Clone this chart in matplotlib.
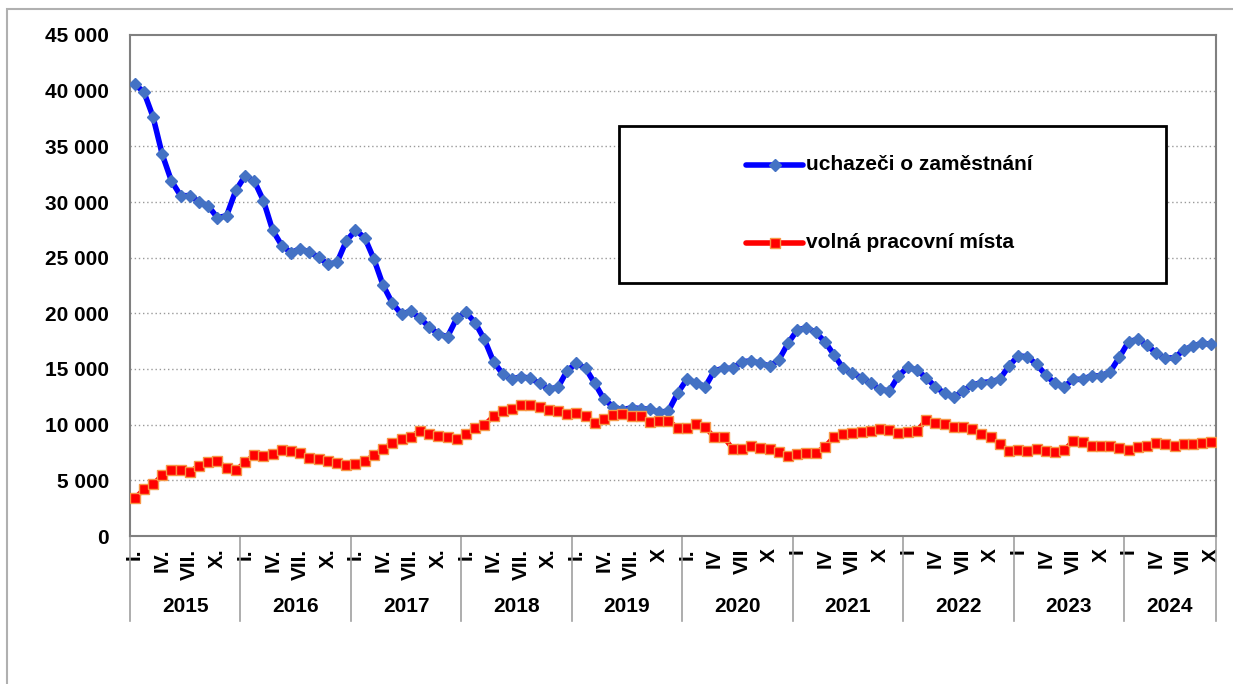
import matplotlib
matplotlib.use("Agg")
import matplotlib.pyplot as plt
from matplotlib.lines import Line2D
from matplotlib.patches import Rectangle
from matplotlib.ticker import FuncFormatter
import matplotlib.transforms as mtransforms
import numpy as np

plt.rcParams['font.family'] = ['Liberation Sans', 'DejaVu Sans']
plt.rcParams['font.weight'] = 'bold'

# data (monthly, I/2015 - X/2024)
years = ["2015", "2016", "2017", "2018", "2019", "2020", "2021", "2022", "2023", "2024"]
months_in_year = [12, 12, 12, 12, 12, 12, 12, 12, 12, 10]

uchazeci = [
    40570, 39900, 37660, 34280, 31890, 30570, 30570, 30030, 29640, 28590, 28770, 31050,
    32340, 31890, 30120, 27460, 26080, 25450, 25810, 25480, 25060, 24400, 24580, 26500,
    27460, 26800, 24880, 22520, 20930, 19910, 20210, 19550, 18800, 18140, 17900, 19550,
    20090, 19160, 17670, 15660, 14550, 14100, 14310, 14160, 13710, 13200, 13350, 14850,
    15510, 15060, 13710, 12280, 11620, 11320, 11530, 11440, 11380, 11110, 11230, 12820,
    14070, 13770, 13410, 14850, 15060, 15060, 15660, 15720, 15510, 15270, 15810, 17310,
    18500, 18710, 18290, 17450, 16260, 15060, 14610, 14220, 13710, 13180, 13020, 14370,
    15150, 14910, 14220, 13410, 12820, 12460, 13020, 13560, 13770, 13860, 14070, 15270,
    16170, 16110, 15420, 14460, 13710, 13410, 14070, 14070, 14400, 14370, 14760, 16050,
    17450, 17670, 17160, 16410, 15960, 16020, 16710, 17070, 17310, 17220,
]

volna_mista = [
    3390, 4190, 4640, 5480, 5930, 5930, 5780, 6320, 6620, 6740, 6080, 5930,
    6620, 7280, 7220, 7370, 7720, 7660, 7480, 6980, 6890, 6770, 6590, 6380,
    6440, 6740, 7280, 7810, 8380, 8750, 8920, 9460, 9160, 8980, 8920, 8740,
    9160, 9670, 9970, 10780, 11260, 11440, 11740, 11740, 11560, 11320, 11260, 10930,
    11080, 10780, 10180, 10540, 10840, 10930, 10750, 10780, 10240, 10330, 10360, 9730,
    9730, 10060, 9760, 8860, 8860, 7840, 7810, 8110, 7930, 7810, 7510, 7190,
    7340, 7480, 7480, 8020, 8920, 9160, 9280, 9370, 9460, 9610, 9520, 9220,
    9310, 9430, 10420, 10180, 10100, 9820, 9820, 9580, 9130, 8920, 8260, 7670,
    7720, 7670, 7780, 7670, 7510, 7720, 8560, 8410, 8110, 8110, 8110, 7870,
    7720, 8020, 8110, 8320, 8260, 8110, 8230, 8230, 8320, 8410,
]

month_labels = [
    ["I.", "IV.", "VII.", "X."],
    ["I.", "IV.", "VII.", "X."],
    ["I.", "IV.", "VII.", "X."],
    ["I.", "IV.", "VII.", "X."],
    ["I.", "IV.", "VII.", "X"],
    ["I.", "IV", "VII", "X"],
    ["I", "IV", "VII", "X"],
    ["I", "IV", "VII", "X"],
    ["I", "IV", "VII", "X"],
    ["I", "IV", "VII", "X"],
]

W, H = 1233, 684
fig = plt.figure(figsize=(W / 100, H / 100), dpi=100)
ax = fig.add_axes([130 / W, 1 - 536 / H, 1086 / W, 501 / H])

n = len(uchazeci)
x = np.arange(n)

ax.plot(x, uchazeci, color="#0000FF", lw=4, marker="D", ms=5.8,
        mfc="#4472C4", mec="#4472C4", zorder=3)
ax.plot(x, volna_mista, color="#FF0000", lw=3.5, marker="s", ms=7,
        mfc="#FF0000", mec="#F79646", mew=1, zorder=3)

ax.set_xlim(-0.5, n - 0.5)
ax.set_ylim(0, 45000)
ax.set_yticks(np.arange(0, 45001, 5000))
ax.yaxis.set_major_formatter(FuncFormatter(lambda v, p: "{:,}".format(int(v)).replace(",", " ")))
ax.tick_params(axis="y", length=0, pad=15, labelsize=15)
for v in range(5000, 45000, 5000):
    ax.axhline(v, color="#999999", lw=1, ls=(0, (1, 2)), zorder=1)

for s in ax.spines.values():
    s.set_color("#808080")
    s.set_linewidth(1.5)

# month ticks
ticks = []
labels = []
start = 0
for yi, cnt in enumerate(months_in_year):
    for k, lab in enumerate(month_labels[yi]):
        ticks.append(start + 3 * k)
        labels.append(lab)
    start += cnt
ax.set_xticks(ticks)
ax.set_xticklabels(labels, rotation=90, fontsize=15)
ax.tick_params(axis="x", length=0, pad=9)

# year groups
trans = mtransforms.blended_transform_factory(ax.transData, ax.transAxes)
low = -(621 - 536) / 501
bounds = [-0.5]
for cnt in months_in_year:
    bounds.append(bounds[-1] + cnt)
for b in bounds:
    ax.plot([b, b], [0, low], transform=trans, color="#A0A0A0", lw=1.2, clip_on=False)
for yi, yr in enumerate(years):
    ax.text((bounds[yi] + bounds[yi + 1]) / 2, -(607 - 536) / 501, yr, transform=trans,
            ha="center", va="center", fontsize=15, fontweight="bold")

# legend
fig.add_artist(Rectangle((619 / W, 1 - 283 / H), (1166 - 619) / W, (283 - 126) / H,
                         transform=fig.transFigure, fill=True, fc="white",
                         ec="black", lw=2, zorder=5))
leg = [(165, "#0000FF", "D", 5.8, "#4472C4", "#4472C4", "uchazeči o zaměstnání"),
       (243, "#FF0000", "s", 7, "#FF0000", "#F79646", "volná pracovní místa")]
for yy, col, mk, ms, fc, ec, txt in leg:
    fy = 1 - yy / H
    fig.add_artist(Line2D([746 / W, 803 / W], [fy, fy], transform=fig.transFigure,
                          color=col, lw=4, solid_capstyle="round", zorder=6))
    fig.add_artist(Line2D([774.5 / W], [fy], transform=fig.transFigure, marker=mk,
                          ms=ms, mfc=fc, mec=ec, ls="none", zorder=7))
    fig.text(806 / W, fy, txt, ha="left", va="center", fontsize=15,
             fontweight="bold", zorder=7)

# outer chart border
fig.add_artist(Rectangle((7 / W, -0.05), 1.1, 1 - 9 / H + 0.05, transform=fig.transFigure,
                         fill=False, ec="#B0B0B0", lw=1.5))

fig.savefig("out.png", dpi=100)
